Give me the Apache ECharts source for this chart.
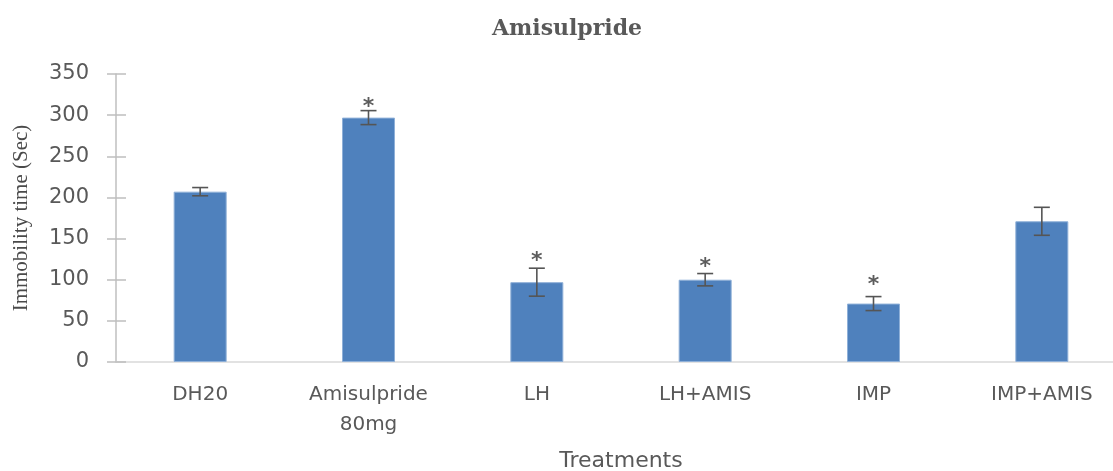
<!DOCTYPE html>
<html>
<head>
<meta charset="utf-8">
<script src="https://cdn.jsdelivr.net/npm/echarts@6/dist/echarts.min.js"></script>
<style>html,body{margin:0;padding:0;background:#fff;overflow:hidden}#c{width:1113px;height:471px}</style>
</head>
<body>
<div id="c"></div>
<script>
const categories = ['DH20', 'Amisulpride\n80mg', 'LH', 'LH+AMIS', 'IMP', 'IMP+AMIS'];
const means = [207, 297, 97, 100, 71, 171];
const errors = [5, 8.5, 17, 7.5, 8.5, 17];
const asteriskPos = [null, 316, 129, 121, 99, null];
const yTicks = [0, 50, 100, 150, 200, 250, 300, 350];

const chart = echarts.init(document.getElementById('c'), null, {renderer: 'canvas'});
const gray = '#595959';
chart.setOption({
  animation: false,
  title: {
    text: 'Amisulpride', left: 562, top: 13, textAlign: 'center',
    textStyle: {fontFamily: 'DejaVu Serif', fontSize: 22, fontWeight: 'bold', color: gray}
  },
  grid: {left: 116, top: 74, width: 1010, height: 288, containLabel: false, outerBoundsMode: 'none'},
  xAxis: {
    type: 'category', data: categories,
    name: 'Treatments', nameLocation: 'middle', nameGap: 88,
    nameTextStyle: {fontFamily: 'DejaVu Sans', fontSize: 22, color: gray},
    axisLine: {lineStyle: {color: '#d9d9d9', width: 1.5}},
    axisTick: {show: false},
    axisLabel: {fontFamily: 'DejaVu Sans', fontSize: 20, color: gray, lineHeight: 30, margin: 18, interval: 0}
  },
  yAxis: [{
    type: 'value', min: yTicks[0], max: yTicks[yTicks.length - 1], interval: 50, position: 'left',
    name: 'Immobility time (Sec)', nameLocation: 'middle', nameGap: 84,
    nameTextStyle: {fontFamily: 'Liberation Serif', fontSize: 21, color: '#4a4a4a'},
    axisLine: {show: true, lineStyle: {color: '#bfbfbf', width: 1.5}},
    axisTick: {show: true, length: 9, lineStyle: {color: '#bfbfbf', width: 1.5}},
    axisLabel: {fontFamily: 'DejaVu Sans', fontSize: 21, color: gray, margin: 27},
    splitLine: {show: false}
  }, {
    type: 'value', min: yTicks[0], max: yTicks[yTicks.length - 1], interval: 50, position: 'left',
    axisLine: {show: false},
    axisTick: {show: true, inside: true, length: 10, lineStyle: {color: '#bfbfbf', width: 1.5}},
    axisLabel: {show: false},
    splitLine: {show: false}
  }],
  series: [{
    type: 'bar', data: means, barWidth: 53,
    itemStyle: {color: '#4F81BD', borderColor: '#8fb0d8', borderWidth: 1}
  }, {
    type: 'custom',
    data: means.map((m, i) => [i, m - errors[i], m + errors[i]]),
    renderItem: function (params, api) {
      const x = api.value(0);
      const lo = api.coord([x, api.value(1)]);
      const hi = api.coord([x, api.value(2)]);
      const hw = 8;
      const st = {stroke: '#555555', lineWidth: 1.6};
      return {
        type: 'group', children: [
          {type: 'line', shape: {x1: lo[0], y1: lo[1], x2: hi[0], y2: hi[1]}, style: st},
          {type: 'line', shape: {x1: lo[0] - hw, y1: lo[1], x2: lo[0] + hw, y2: lo[1]}, style: st},
          {type: 'line', shape: {x1: hi[0] - hw, y1: hi[1], x2: hi[0] + hw, y2: hi[1]}, style: st}
        ]
      };
    },
    z: 5
  }, {
    type: 'scatter', symbolSize: 0,
    data: asteriskPos.map((v, i) => v == null ? null : [i, v]).filter(d => d),
    label: {show: true, position: 'inside', offset: [0, 5], formatter: '*', fontFamily: 'DejaVu Sans', fontWeight: 'bold', fontSize: 22, color: '#333333'},
    z: 6
  }]
});
</script>
</body>
</html>
